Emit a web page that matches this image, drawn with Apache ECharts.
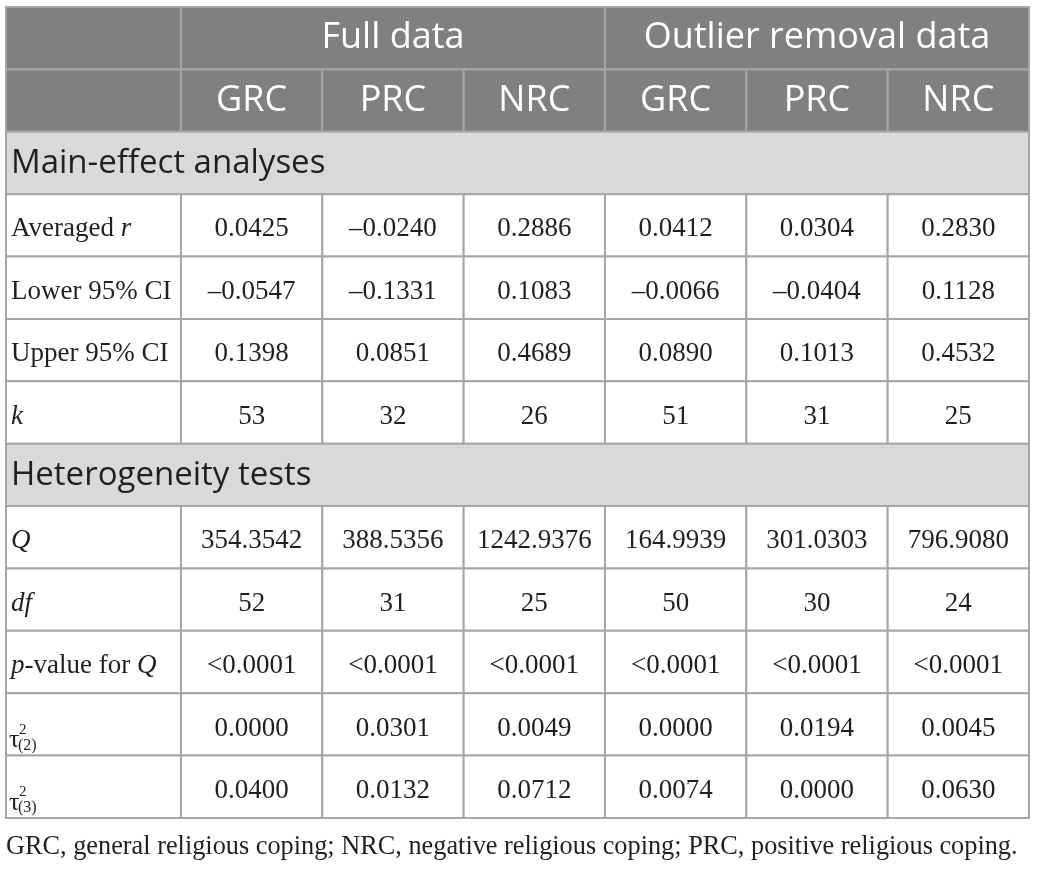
<!DOCTYPE html>
<html>
<head>
<meta charset="utf-8">
<script src="https://cdn.jsdelivr.net/npm/echarts@6/dist/echarts.min.js"></script>
<style>
  html, body { margin: 0; padding: 0; background: #fff; }
  #table { width: 1037px; height: 873px; }
</style>
</head>
<body>
<div id="table"></div>
<script>
// table content
var groupLabels = ['Full data', 'Outlier removal data'];
var measureLabels = ['GRC', 'PRC', 'NRC'];
var sectionLabels = ['Main-effect analyses', 'Heterogeneity tests'];

var mainRowLabels = ['Averaged {i|r}', 'Lower 95% CI', 'Upper 95% CI', '{i|k}'];
var mainValues = [
    ['0.0425', '–0.0240', '0.2886', '0.0412', '0.0304', '0.2830'],
    ['–0.0547', '–0.1331', '0.1083', '–0.0066', '–0.0404', '0.1128'],
    ['0.1398', '0.0851', '0.4689', '0.0890', '0.1013', '0.4532'],
    ['53', '32', '26', '51', '31', '25']
];

var hetRowLabels = ['{i|Q}', '{i|df}', '{i|p}-value for {i|Q}', 'tau:(2)', 'tau:(3)'];
var hetValues = [
    ['354.3542', '388.5356', '1242.9376', '164.9939', '301.0303', '796.9080'],
    ['52', '31', '25', '50', '30', '24'],
    ['<0.0001', '<0.0001', '<0.0001', '<0.0001', '<0.0001', '<0.0001'],
    ['0.0000', '0.0301', '0.0049', '0.0000', '0.0194', '0.0045'],
    ['0.0400', '0.0132', '0.0712', '0.0074', '0.0000', '0.0630']
];

var caption = 'GRC, general religious coping; NRC, negative religious coping; PRC, positive religious coping.';

// layout: stub column is wider than the data columns
var STUB = 1.238;
function colEdge(i) { return i === 0 ? 0 : STUB + (i - 1); }

var SANS = '"Open Sans", "Noto Sans", sans-serif';
var SERIF = '"Liberation Serif", "DejaVu Serif", serif';
var INK = '#231f20';
var BODY = 27;

// build the cell list: [x0, x1, row, kind]
// kind: 0 header blank, 1 header text, 2 section, 3 stub, 4 value
var cells = [];
function addCell(c0, c1, row, kind, text) {
    cells.push({ value: [colEdge(c0), colEdge(c1), row, kind], text: text });
}

var row = 0;
addCell(0, 1, row, 0, '');
groupLabels.forEach(function (g, gi) {
    addCell(1 + gi * 3, 4 + gi * 3, row, 1, g);
});
row++;
addCell(0, 1, row, 0, '');
groupLabels.forEach(function (g, gi) {
    measureLabels.forEach(function (m, mi) {
        var c = 1 + gi * 3 + mi;
        addCell(c, c + 1, row, 1, m);
    });
});
row++;

function addBlock(section, labels, values) {
    addCell(0, 7, row, 2, section);
    row++;
    labels.forEach(function (lab, li) {
        addCell(0, 1, row, 3, lab);
        values[li].forEach(function (v, vi) {
            addCell(vi + 1, vi + 2, row, 4, v);
        });
        row++;
    });
}
addBlock(sectionLabels[0], mainRowLabels, mainValues);
addBlock(sectionLabels[1], hetRowLabels, hetValues);
var rowCount = row;

var fills = ['#808080', '#808080', '#d9d9d9', '#ffffff', '#ffffff'];

function renderItem(params, api) {
    var x0 = api.value(0), x1 = api.value(1), r = api.value(2), kind = api.value(3);
    var p0 = api.coord([x0, r]);
    var p1 = api.coord([x1, r + 1]);
    var w = p1[0] - p0[0], h = p1[1] - p0[1];
    var text = cells[params.dataIndex].text;
    var children = [{
        type: 'rect',
        shape: { x: p0[0], y: p0[1], width: w, height: h },
        style: { fill: fills[kind], stroke: '#a6a6a6', lineWidth: 2 }
    }];
    var cy = p0[1] + h / 2;
    if (kind === 1) {
        children.push({
            type: 'text',
            style: {
                text: text, x: p0[0] + w / 2, y: cy,
                align: 'center', verticalAlign: 'middle',
                fill: '#ffffff', fontFamily: SANS, fontSize: 36
            }
        });
    } else if (kind === 2) {
        children.push({
            type: 'text',
            style: {
                text: text, x: p0[0] + 5, y: cy + 1,
                align: 'left', verticalAlign: 'middle',
                fill: INK, fontFamily: SANS, fontSize: 33
            }
        });
    } else if (kind === 3) {
        if (text.indexOf('tau:') === 0) {
            var sub = text.slice(4);
            children.push({
                type: 'text',
                style: { text: 'τ', x: p0[0] + 3, y: p0[1] + h - 15, align: 'left', verticalAlign: 'middle',
                    fill: INK, fontFamily: SERIF, fontSize: 26 }
            });
            children.push({
                type: 'text',
                style: { text: '2', x: p0[0] + 13, y: p0[1] + h - 26, align: 'left', verticalAlign: 'middle',
                    fill: INK, fontFamily: SERIF, fontSize: 15 }
            });
            children.push({
                type: 'text',
                style: { text: sub, x: p0[0] + 12, y: p0[1] + h - 10, align: 'left', verticalAlign: 'middle',
                    fill: INK, fontFamily: SERIF, fontSize: 16 }
            });
        } else {
            children.push({
                type: 'text',
                style: {
                    text: text, x: p0[0] + 5, y: cy + 4,
                    align: 'left', verticalAlign: 'middle',
                    fill: INK, fontFamily: SERIF, fontSize: BODY,
                    rich: {
                        i: { fontStyle: 'italic', fontFamily: SERIF, fontSize: BODY, fill: INK }
                    }
                }
            });
        }
    } else if (kind === 4) {
        children.push({
            type: 'text',
            style: {
                text: text, x: p0[0] + w / 2, y: cy + 4,
                align: 'center', verticalAlign: 'middle',
                fill: INK, fontFamily: SERIF, fontSize: BODY
            }
        });
    }
    return { type: 'group', children: children };
}

var chart = echarts.init(document.getElementById('table'));
chart.setOption({
    animation: false,
    backgroundColor: '#ffffff',
    title: {
        text: caption,
        left: 1,
        top: 829,
        textStyle: { fontFamily: SERIF, fontSize: 26.3, fontWeight: 'normal', color: INK }
    },
    grid: { left: 6, right: 8, top: 7, bottom: 55 },
    xAxis: { type: 'value', min: 0, max: colEdge(7), show: false },
    yAxis: { type: 'value', min: 0, max: rowCount, inverse: true, show: false },
    series: [{
        type: 'custom',
        renderItem: renderItem,
        clip: false,
        encode: { x: [0, 1], y: 2 },
        data: cells.map(function (c) { return c.value; })
    }]
});
</script>
</body>
</html>
